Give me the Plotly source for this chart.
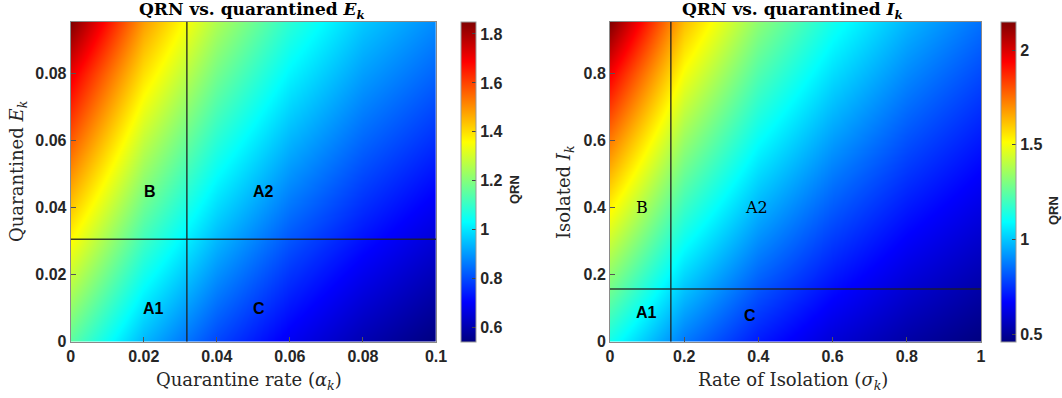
import plotly.graph_objects as go

# ---------------- data ----------------
# Left panel: QRN vs quarantine rate (alpha_k) and quarantined E_k
left_x = [0.0, 0.02, 0.04, 0.06, 0.08, 0.1]
left_y = [0.0, 0.02, 0.04, 0.06, 0.08, 0.0955]
left_z = [
    [1.15, 0.94, 0.795, 0.689, 0.607, 0.543],
    [1.29, 1.055, 0.892, 0.772, 0.685, 0.615],
    [1.43, 1.169, 0.988, 0.856, 0.763, 0.690],
    [1.57, 1.282, 1.084, 0.939, 0.838, 0.765],
    [1.71, 1.397, 1.181, 1.023, 0.910, 0.835],
    [1.85, 1.485, 1.256, 1.088, 0.965, 0.885],
]
left_vline = 0.0318
left_hline = 0.0306
left_xticks = [0, 0.02, 0.04, 0.06, 0.08, 0.1]
left_xticktext = ["0", "0.02", "0.04", "0.06", "0.08", "0.1"]
left_yticks = [0, 0.02, 0.04, 0.06, 0.08]
left_yticktext = ["0", "0.02", "0.04", "0.06", "0.08"]
left_cticks = [0.6, 0.8, 1.0, 1.2, 1.4, 1.6, 1.8]
left_cticktext = ["0.6", "0.8", "1", "1.2", "1.4", "1.6", "1.8"]
left_regions = ["B", "A2", "A1", "C"]
left_region_x = [0.0217, 0.0529, 0.0228, 0.0515]
left_region_y = [0.0447, 0.0447, 0.0100, 0.0100]

# Right panel: QRN vs rate of isolation (sigma_k) and isolated I_k
right_x = [0.0, 0.2, 0.4, 0.6, 0.8, 1.0]
right_y = [0.0, 0.2, 0.4, 0.6, 0.8, 0.955]
right_z = [
    [1.124, 0.873, 0.714, 0.604, 0.523, 0.461],
    [1.327, 1.031, 0.843, 0.713, 0.618, 0.545],
    [1.530, 1.189, 0.972, 0.822, 0.712, 0.628],
    [1.733, 1.346, 1.101, 0.931, 0.806, 0.711],
    [1.950, 1.504, 1.229, 1.040, 0.901, 0.794],
    [2.150, 1.626, 1.329, 1.124, 0.974, 0.859],
]
right_vline = 0.164
right_hline = 0.157
right_xticks = [0, 0.2, 0.4, 0.6, 0.8, 1.0]
right_xticktext = ["0", "0.2", "0.4", "0.6", "0.8", "1"]
right_yticks = [0, 0.2, 0.4, 0.6, 0.8]
right_yticktext = ["0", "0.2", "0.4", "0.6", "0.8"]
right_cticks = [0.5, 1.0, 1.5, 2.0]
right_cticktext = ["0.5", "1", "1.5", "2"]
right_regions = ["B", "A2", "A1", "C"]
right_region_x = [0.087, 0.395, 0.099, 0.377]
right_region_y = [0.400, 0.402, 0.086, 0.077]

# ---------------- style ----------------
W, H = 1062, 398
jet = [
    [0.0, "rgb(0,0,128)"],
    [0.125, "rgb(0,0,255)"],
    [0.375, "rgb(0,255,255)"],
    [0.625, "rgb(255,255,0)"],
    [0.875, "rgb(255,0,0)"],
    [1.0, "rgb(128,0,0)"],
]
SANS = "Liberation Sans, Arial, sans-serif"
SERIF = "DejaVu Serif, Liberation Serif, serif"
TICKFONT = dict(family=SANS, size=16, color="#262626", weight="bold")


def px(x):
    return x / W


def py(y):
    return 1 - y / H


top, bottom = 21.7, 341.7
L = (70.7, 436.0)
R = (610.0, 981.0)
ydom = [py(bottom), py(top)]

fig = go.Figure()


def cbar(x0, ticks, text):
    return dict(
        x=px(x0), xanchor="left", xref="paper",
        y=py((top + bottom) / 2), yanchor="middle", yref="paper",
        len=(bottom - top) / H, lenmode="fraction",
        thickness=15, thicknessmode="pixels",
        outlinewidth=1, outlinecolor="#999",
        tickvals=ticks, ticktext=text, ticks="inside", ticklen=4,
        tickcolor="#444", tickfont=TICKFONT, ypad=0, xpad=0,
    )


fig.add_trace(go.Heatmap(
    x=left_x, y=left_y, z=left_z, colorscale=jet, zsmooth="best",
    colorbar=cbar(461, left_cticks, left_cticktext), xaxis="x", yaxis="y",
    hoverinfo="skip",
))
fig.add_trace(go.Heatmap(
    x=right_x, y=right_y, z=right_z, colorscale=jet, zsmooth="best",
    colorbar=cbar(1001, right_cticks, right_cticktext), xaxis="x2", yaxis="y2",
    hoverinfo="skip",
))

axis_common = dict(
    showgrid=False, zeroline=False, showline=True, mirror=True,
    linecolor="#8a8a8a", linewidth=1, ticks="inside", ticklen=5,
    tickcolor="#555", tickfont=TICKFONT, automargin=False,
)

fig.update_layout(
    width=W, height=H, margin=dict(l=0, r=0, t=0, b=0, autoexpand=False),
    paper_bgcolor="white", plot_bgcolor="white", showlegend=False,
    xaxis=dict(domain=[px(L[0]), px(L[1])], range=[0, 0.1],
               tickvals=left_xticks, ticktext=left_xticktext, anchor="y", **axis_common),
    yaxis=dict(domain=ydom, range=[0, left_y[-1]],
               tickvals=left_yticks, ticktext=left_yticktext, anchor="x", **axis_common),
    xaxis2=dict(domain=[px(R[0]), px(R[1])], range=[0, 1],
                tickvals=right_xticks, ticktext=right_xticktext, anchor="y2", **axis_common),
    yaxis2=dict(domain=ydom, range=[0, right_y[-1]],
                tickvals=right_yticks, ticktext=right_yticktext, anchor="x2", **axis_common),
)

# threshold lines
line_style = dict(color="rgba(30,30,30,0.85)", width=1.5)
fig.add_shape(type="line", xref="x", yref="y", x0=left_vline, x1=left_vline,
              y0=0, y1=left_y[-1], line=line_style, layer="above")
fig.add_shape(type="line", xref="x", yref="y", x0=0, x1=0.1,
              y0=left_hline, y1=left_hline, line=line_style, layer="above")
fig.add_shape(type="line", xref="x2", yref="y2", x0=right_vline, x1=right_vline,
              y0=0, y1=right_y[-1], line=line_style, layer="above")
fig.add_shape(type="line", xref="x2", yref="y2", x0=0, x1=1,
              y0=right_hline, y1=right_hline, line=line_style, layer="above")

# region labels
for t, x, y in zip(left_regions, left_region_x, left_region_y):
    fig.add_annotation(text=t, x=x, y=y, xref="x", yref="y", showarrow=False,
                       xanchor="center", yanchor="middle",
                       font=dict(family=SANS, size=16, color="black", weight="bold"))
for t, x, y in zip(right_regions, right_region_x, right_region_y):
    if t in ("B", "A2"):
        f = dict(family=SERIF, size=16, color="black")
    else:
        f = dict(family=SANS, size=16, color="black", weight="bold")
    fig.add_annotation(text=t, x=x, y=y, xref="x2", yref="y2", showarrow=False,
                       xanchor="center", yanchor="middle", font=f)


def note(text, x, y, font, angle=0):
    fig.add_annotation(text=text, x=px(x), y=py(y), xref="paper", yref="paper",
                       showarrow=False, xanchor="center", yanchor="middle",
                       font=font, textangle=angle)


# titles and axis labels
title_font = dict(family=SERIF, size=17, color="black", weight="bold")
label_font = dict(family=SERIF, size=18, color="#262626")
note("QRN vs. quarantined <i>E<sub>k</sub></i>", 252, 10, title_font)
note("QRN vs. quarantined <i>I<sub>k</sub></i>", 792, 10, title_font)
note("Quarantine rate (<i>α<sub>k</sub></i>)", 249, 381, label_font)
note("Rate of Isolation (<i>σ<sub>k</sub></i>)", 793, 381, label_font)
note("Quarantined <i>E<sub>k</sub></i>", 18, 172, label_font, -90)
note("Isolated <i>I<sub>k</sub></i>", 565, 192, label_font, -90)
cb_title_font = dict(family=SANS, size=13, color="#262626", weight="bold")
note("QRN", 515, 190, cb_title_font, -90)
note("QRN", 1053, 211, cb_title_font, -90)

fig.write_html("out.html", config={"displayModeBar": False},
               post_script="document.body.style.margin='0px';")
